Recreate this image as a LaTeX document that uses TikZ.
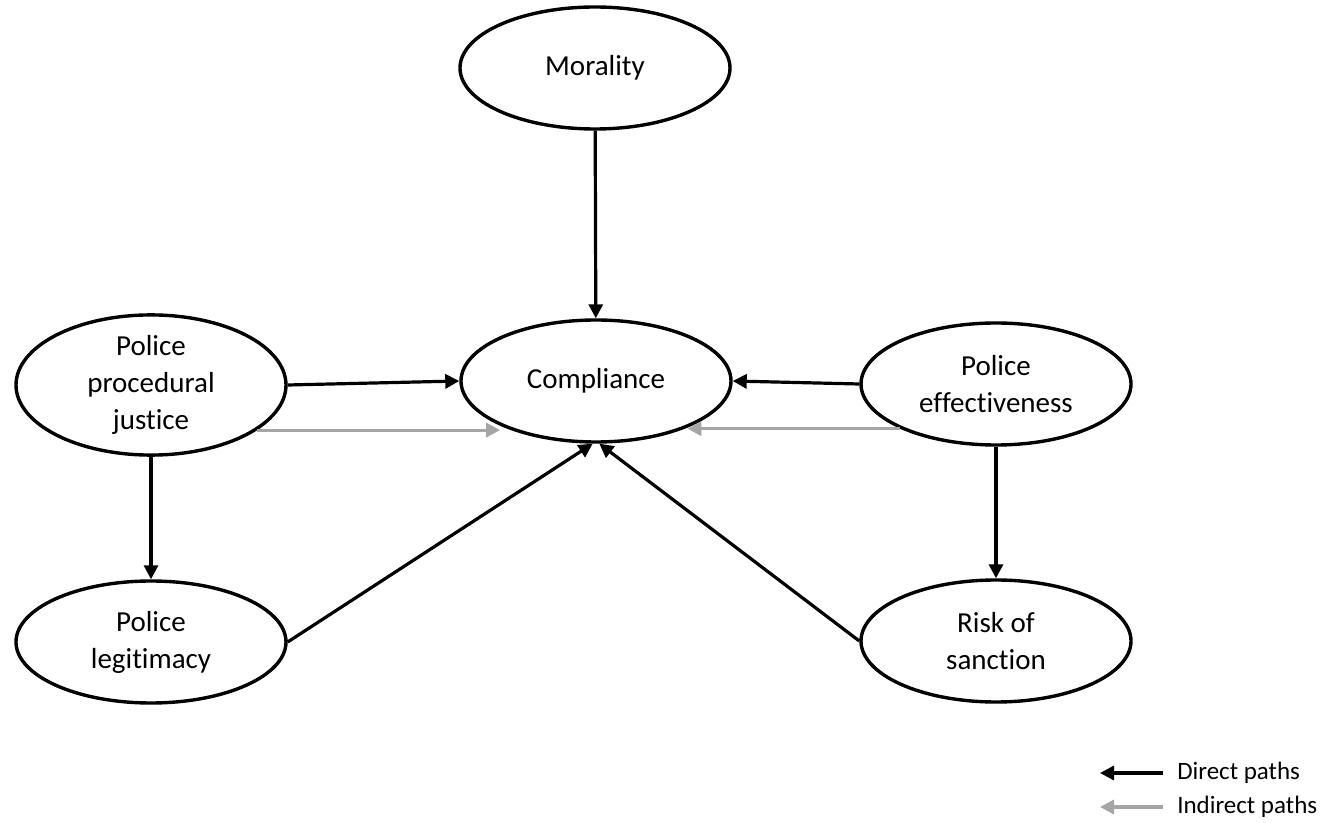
\documentclass[tikz,border=0pt]{standalone}
\usepackage{fontspec}
\setmainfont{Carlito}[Ligatures=NoCommon]
\usetikzlibrary{shapes.geometric, arrows.meta}

\begin{document}
\begin{tikzpicture}
	[x=0.5pt, y=-0.5pt,
	 VarEllipse/.style={ellipse, draw, line width=1.7pt, minimum width=135pt, minimum height=61pt, inner sep=0pt, align=center, font=\fontsize{14.5}{18.5}\selectfont},	%Variables
	 DirectArrow/.style={line width=1.6pt, -{Triangle[length=7pt, width=7pt]}},		%Direct paths
	 IndirectArrow/.style={DirectArrow, color=black!35},					%Indirect paths
	 LegendText/.style={right, xshift=3pt, text=black, font=\fontsize{12.5}{15}\selectfont}
	]
	
	\useasboundingbox (0,0) rectangle (1329,823);
	
	\node[VarEllipse] (Mor) at (595,68) {Morality};
	\node[VarEllipse] (Comp) at (596,381) {Compliance};
	\node[VarEllipse] (PPJ) at (151,385) {Police\\procedural\\justice};
	\node[VarEllipse] (Eff) at (996,384) {Police\\effectiveness};
	\node[VarEllipse] (Leg) at (151,642) {Police\\legitimacy};
	\node[VarEllipse] (Risk) at (996,641) {Risk of\\sanction};
	
	\draw[DirectArrow] (Mor) -- (Comp);						%Morality -> compliance
	\draw[DirectArrow] (PPJ.east) -- (Comp.west);
	\draw[DirectArrow] (Eff.west) -- (Comp.east);
	\draw[DirectArrow] (PPJ) -- (Leg);
	\draw[DirectArrow] (Eff) -- (Risk);
	\draw[DirectArrow] (Leg.east) -- (Comp.267);
	\draw[DirectArrow] (Risk.west) -- (Comp.273);
	
	\draw[IndirectArrow] (PPJ.-23) -- (PPJ.-23 -| Comp.205);			%Indirect paths
	\draw[IndirectArrow] (Eff.205) -- (Eff.205 -| Comp.-27);
	
	%Legend
	\coordinate (DirA) at (1163,773);
	\coordinate (DirB) at (1100,773);
	\coordinate (IndA) at (1163,807);
	\coordinate (IndB) at (1100,807);
	\draw[DirectArrow] (DirA) -- (DirB) node[at start, LegendText] (DirText) {Direct paths};
	\draw[IndirectArrow] (IndA) -- (IndB) node[at start, LegendText] (IndText) {Indirect paths};
	
\end{tikzpicture}
\end{document}
